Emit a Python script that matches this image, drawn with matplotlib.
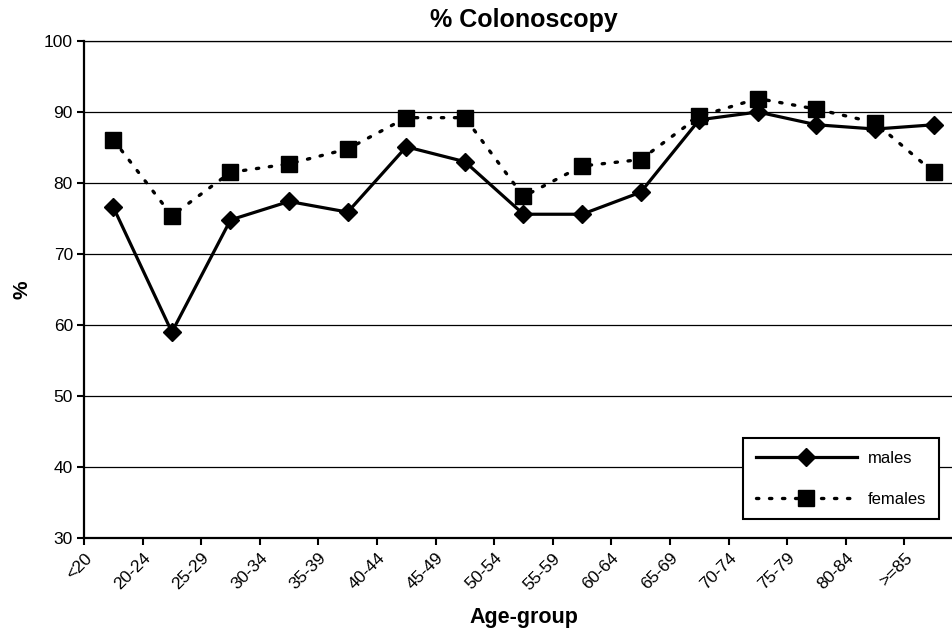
import numpy as np
import matplotlib
matplotlib.use("Agg")
import matplotlib.pyplot as plt

plt.rcParams['font.family'] = ['Liberation Sans', 'DejaVu Sans']

age_groups = ["<20", "20-24", "25-29", "30-34", "35-39", "40-44", "45-49", "50-54",
              "55-59", "60-64", "65-69", "70-74", "75-79", "80-84", ">=85"]
males = [76.6, 59.0, 74.8, 77.4, 75.9, 85.1, 83.0, 75.6, 75.6, 78.7, 88.9, 90.0, 88.2, 87.6, 88.2]
females = [86.1, 75.4, 81.5, 82.7, 84.8, 89.2, 89.2, 78.1, 82.4, 83.3, 89.4, 91.9, 90.4, 88.5, 81.5]

W, H = 953, 628
fig = plt.figure(figsize=(W / 100, H / 100), dpi=100)
# plot area runs past the right edge of the figure
left, right, top, bottom = 84, 963, 41, 538
ax = fig.add_axes([left / W, 1 - bottom / H, (right - left) / W, (bottom - top) / H])

x = np.arange(len(age_groups))
ax.plot(x, males, color='black', lw=2.3, marker='D', ms=9.5, label='males', zorder=4)
ax.plot(x, females, color='black', lw=2.4, marker='s', ms=11.5, label='females',
        linestyle=(0, (0.7, 3.2)), dash_capstyle='round', zorder=3)

ax.set_xlim(-0.5, len(age_groups) - 0.5)
ax.set_ylim(30, 100)
ax.set_yticks(np.arange(30, 101, 10))
ax.set_xticks(x - 0.5)
ax.set_xticklabels(age_groups, rotation=45, ha='right', va='top', rotation_mode='anchor')

ax.yaxis.grid(True, color='black', lw=0.9)
ax.set_axisbelow(True)
for s in ['left', 'bottom']:
    ax.spines[s].set_linewidth(1.6)
ax.spines['right'].set_visible(False)
ax.spines['top'].set_linewidth(0.9)

ax.tick_params(axis='both', direction='out', length=5, width=1.5, labelsize=12.5, pad=3)
ax.tick_params(axis='x', pad=4)

ax.set_title('% Colonoscopy', fontsize=18, fontweight='bold', pad=10)
ax.set_xlabel('Age-group', fontsize=15.5, fontweight='bold', labelpad=10)
ax.set_ylabel('%', fontsize=15, fontweight='bold', labelpad=9)

leg = ax.legend(loc='lower right', bbox_to_anchor=((939 - left) / (right - left), (538 - 519) / (bottom - top)),
                fontsize=12, handlelength=6.1, frameon=True, fancybox=False,
                borderpad=0.75, labelspacing=1.55, handletextpad=0.65, borderaxespad=0)
leg.get_frame().set_edgecolor('black')
leg.get_frame().set_linewidth(1.5)
leg.get_frame().set_alpha(1)

fig.savefig('out.png', dpi=100)
